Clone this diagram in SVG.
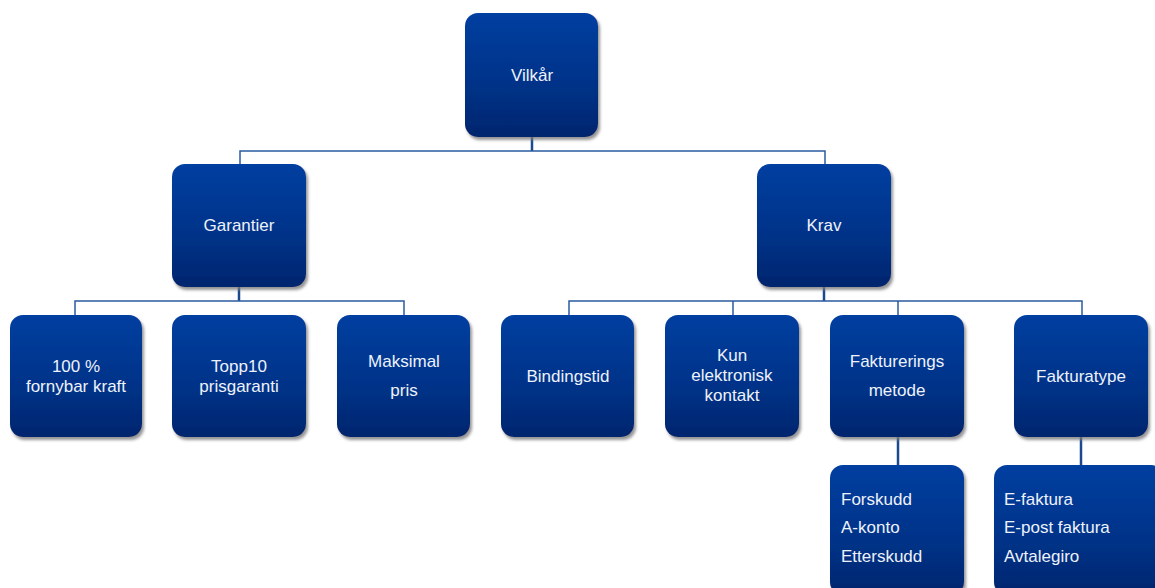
<svg xmlns="http://www.w3.org/2000/svg" width="1155" height="588" viewBox="0 0 1155 588">
<style>
.box{fill:url(#g);filter:url(#sh)}
.t{font-family:"Liberation Sans",Arial,sans-serif;font-size:17px;fill:#eef2fa;text-anchor:middle}
.tl{font-family:"Liberation Sans",Arial,sans-serif;font-size:17px;fill:#eef2fa}
.c{fill:none;stroke:#2a5b9e;stroke-width:1.5}
.cv{fill:none;stroke:#1a4a8e;stroke-width:2.5}
</style>
<defs>
<linearGradient id="g" x1="0" y1="0" x2="0" y2="1">
<stop offset="0" stop-color="#003fa0"/>
<stop offset="0.55" stop-color="#00338a"/>
<stop offset="1" stop-color="#00266e"/>
</linearGradient>
<filter id="sh" x="-10%" y="-10%" width="125%" height="125%">
<feGaussianBlur in="SourceAlpha" stdDeviation="1.8" result="b"/>
<feOffset in="b" dx="1.5" dy="2.5" result="o"/>
<feFlood flood-color="#7a7a7a" flood-opacity="0.8"/>
<feComposite in2="o" operator="in" result="s"/>
<feMerge><feMergeNode in="s"/><feMergeNode in="SourceGraphic"/></feMerge>
</filter>
</defs>
<rect width="1155" height="588" fill="#ffffff"/>
<g id="connectors">
<path class="cv" d="M532 137V151"/>
<path class="c" d="M240 164V151H825V164"/>
<path class="cv" d="M239 287V301"/>
<path class="c" d="M75 315V301H404V315"/>
<path class="cv" d="M824 287V301"/>
<path class="c" d="M569 315V301H1082V315M733 301V315M898 301V315"/>
<path class="cv" d="M898 437V465"/>
<path class="cv" d="M1081 437V465"/>
</g>
<g id="vilkar"><rect class="box" x="465" y="13" width="133" height="124" rx="13"/><text class="t" x="532" y="81">Vilkår</text></g>
<g id="garantier"><rect class="box" x="172" y="164" width="134" height="123" rx="13"/><text class="t" x="239" y="231">Garantier</text></g>
<g id="krav"><rect class="box" x="757" y="164" width="134" height="123" rx="13"/><text class="t" x="824" y="231">Krav</text></g>
<g id="fornybar"><rect class="box" x="10" y="315" width="132" height="122" rx="13"/><text class="t" x="76" y="372">100 %</text><text class="t" x="76" y="392">fornybar kraft</text></g>
<g id="topp10"><rect class="box" x="172" y="315" width="134" height="122" rx="13"/><text class="t" x="239" y="372">Topp10</text><text class="t" x="239" y="392">prisgaranti</text></g>
<g id="maksimal"><rect class="box" x="337" y="315" width="133" height="122" rx="13"/><text class="t" x="404" y="367">Maksimal</text><text class="t" x="404" y="396">pris</text></g>
<g id="bindingstid"><rect class="box" x="501" y="315" width="133" height="122" rx="13"/><text class="t" x="568" y="382">Bindingstid</text></g>
<g id="kun"><rect class="box" x="665" y="315" width="134" height="122" rx="13"/><text class="t" x="732" y="361">Kun</text><text class="t" x="732" y="381">elektronisk</text><text class="t" x="732" y="401">kontakt</text></g>
<g id="fakturerings"><rect class="box" x="830" y="315" width="134" height="122" rx="13"/><text class="t" x="897" y="367">Fakturerings</text><text class="t" x="897" y="396">metode</text></g>
<g id="fakturatype"><rect class="box" x="1014" y="315" width="134" height="122" rx="13"/><text class="t" x="1081" y="382">Fakturatype</text></g>
<g id="metoder"><rect class="box" x="830" y="465" width="134" height="130" rx="13"/><text class="tl" x="841" y="505">Forskudd</text><text class="tl" x="841" y="533">A-konto</text><text class="tl" x="841" y="562">Etterskudd</text></g>
<g id="typer"><rect class="box" x="994" y="465" width="170" height="130" rx="13"/><text class="tl" x="1004" y="505">E-faktura</text><text class="tl" x="1004" y="533">E-post faktura</text><text class="tl" x="1004" y="562">Avtalegiro</text></g>
</svg>
